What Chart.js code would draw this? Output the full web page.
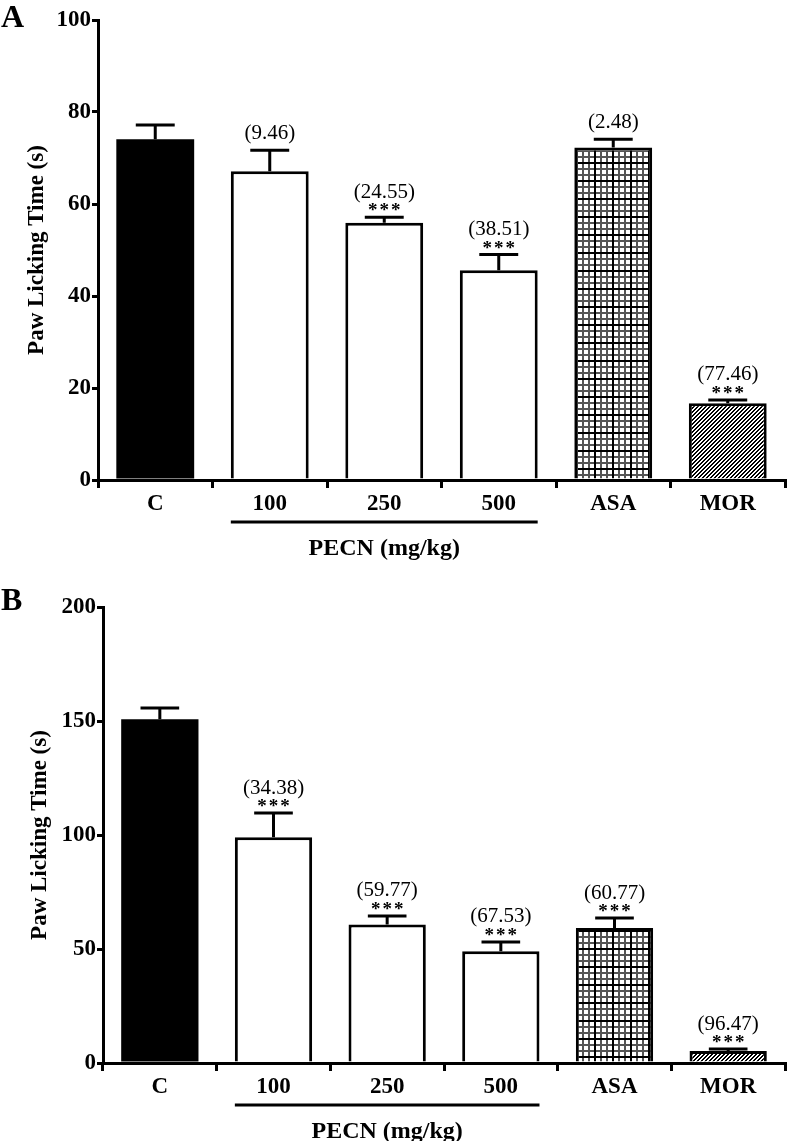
<!DOCTYPE html>
<html>
<head>
<meta charset="utf-8">
<script src="https://cdn.jsdelivr.net/npm/chart.js@4.4.1/dist/chart.umd.min.js"></script>
<style>
  html, body { margin: 0; padding: 0; background: #fff; }
  canvas { display: block; }
</style>
</head>
<body>
<canvas id="chartA" width="787" height="570"></canvas>
<canvas id="chartB" width="787" height="571"></canvas>
<script>
const categories = ['C', '100', '250', '500', 'ASA', 'MOR'];

// panel A
const timeA = [74.1, 67.1, 55.9, 45.6, 72.3, 16.7];
const semA = [3.1, 4.6, 1.2, 3.4, 1.8, 0.7];
const inhibA = ['', '(9.46)', '(24.55)', '(38.51)', '(2.48)', '(77.46)'];
const starsA = ['', '', '***', '***', '', '***'];
const ticksA = [0, 20, 40, 60, 80, 100];

// panel B
const timeB = [150.8, 99.0, 60.7, 49.0, 59.2, 5.3];
const semB = [4.9, 10.6, 3.8, 4.1, 4.4, 0.8];
const inhibB = ['', '(34.38)', '(59.77)', '(67.53)', '(60.77)', '(96.47)'];
const starsB = ['', '***', '***', '***', '***', '***'];
const ticksB = [0, 50, 100, 150, 200];

const SERIF = '"Liberation Serif", "Times New Roman", serif';

function gridPattern() {
    const c = document.createElement('canvas');
    c.width = 18; c.height = 18;
    const g = c.getContext('2d');
    g.fillStyle = '#fff';
    g.fillRect(0, 0, 18, 18);
    g.fillStyle = '#555';
    for (let i = 0; i < 18; i += 6) {
        g.fillRect(i, 0, 2, 18);
        g.fillRect(0, i, 18, 2);
    }
    g.fillStyle = '#000';
    g.fillRect(0, 0, 2, 18);
    g.fillRect(0, 0, 18, 2);
    return g.createPattern(c, 'repeat');
}

function hatchPattern() {
    const c = document.createElement('canvas');
    c.width = 4; c.height = 4;
    const g = c.getContext('2d');
    g.fillStyle = '#fff';
    g.fillRect(0, 0, 4, 4);
    g.fillStyle = '#000';
    for (let i = 0; i < 4; i++) {
        g.fillRect(i, 3 - i, 1, 1);
        g.fillRect(i, (4 - i) % 4, 1, 1);
    }
    return g.createPattern(c, 'repeat');
}

const annotate = {
    id: 'annotate',
    afterDatasetsDraw(chart, args, opts) {
        const { ctx, chartArea, scales: { y } } = chart;
        const bars = chart.getDatasetMeta(0).data;
        const values = chart.data.datasets[0].data;
        ctx.save();
        ctx.fillStyle = '#000';
        ctx.strokeStyle = '#000';
        ctx.lineWidth = 3;
        ctx.textAlign = 'center';
        bars.forEach((bar, i) => {
            const yTop = y.getPixelForValue(values[i] + opts.sem[i]);
            const half = bar.width / 4;
            ctx.beginPath();
            ctx.moveTo(bar.x, bar.y);
            ctx.lineTo(bar.x, yTop);
            ctx.moveTo(bar.x - half, yTop);
            ctx.lineTo(bar.x + half, yTop);
            ctx.stroke();

            if (opts.stars[i]) {
                ctx.font = 'bold 19px ' + SERIF;
                ctx.letterSpacing = '2px';
                ctx.textBaseline = 'alphabetic';
                ctx.fillText(opts.stars[i], bar.x + 1, yTop - 1);
                ctx.letterSpacing = '0px';
            }
            if (opts.inhib[i]) {
                ctx.font = '21px ' + SERIF;
                ctx.textBaseline = 'middle';
                ctx.fillText(opts.inhib[i], bar.x, yTop - (opts.stars[i] ? 25 : 17));
            }
        });

        // PECN group line and label
        const first = bars[1], last = bars[3];
        const lineY = chartArea.bottom + 42;
        ctx.beginPath();
        ctx.moveTo(first.x - first.width / 2, lineY);
        ctx.lineTo(last.x + last.width / 2, lineY);
        ctx.stroke();
        ctx.font = 'bold 24px ' + SERIF;
        ctx.textBaseline = 'middle';
        ctx.fillText('PECN (mg/kg)', bars[2].x, chartArea.bottom + 69);

        // y axis title
        ctx.save();
        ctx.translate(opts.titleX, (chartArea.top + chartArea.bottom) / 2);
        ctx.rotate(-Math.PI / 2);
        ctx.font = 'bold 23px ' + SERIF;
        ctx.fillText('Paw Licking Time (s)', 0, 0);
        ctx.restore();

        // panel letter
        ctx.textAlign = 'left';
        ctx.textBaseline = 'alphabetic';
        ctx.font = 'bold 32px ' + SERIF;
        ctx.fillText(opts.letter, 1, opts.letterY);
        ctx.restore();
    }
};

function buildChart(id, cfg) {
    const tickFont = { family: SERIF, size: 23, weight: 'bold' };
    return new Chart(document.getElementById(id), {
        type: 'bar',
        data: {
            labels: categories,
            datasets: [{
                data: cfg.values,
                backgroundColor: ['#000', '#fff', '#fff', '#fff', gridPattern(), hatchPattern()],
                borderColor: '#000',
                borderWidth: [0, 3, 3, 3, 3, 3],
                barPercentage: 0.68,
                categoryPercentage: 1
            }]
        },
        options: {
            responsive: false,
            animation: false,
            layout: { padding: { top: cfg.top, right: 2, bottom: cfg.bottom, left: 0 } },
            plugins: {
                legend: { display: false },
                tooltip: { enabled: false },
                annotate: {
                    sem: cfg.sem, inhib: cfg.inhib, stars: cfg.stars,
                    letter: cfg.letter, letterY: cfg.letterY, titleX: cfg.titleX
                }
            },
            scales: {
                x: {
                    grid: { display: true, drawOnChartArea: false, color: '#000', lineWidth: 3, tickLength: 8 },
                    border: { color: '#000', width: 3 },
                    ticks: { color: '#000', font: tickFont, padding: 2 },
                    afterFit: s => { s.height = 30; }
                },
                y: {
                    min: 0,
                    max: cfg.ticks[cfg.ticks.length - 1],
                    afterBuildTicks: s => { s.ticks = cfg.ticks.map(v => ({ value: v })); },
                    grid: { display: true, drawOnChartArea: false, color: '#000', lineWidth: 3, tickLength: 6 },
                    border: { color: '#000', width: 3 },
                    ticks: { color: '#000', font: tickFont, padding: 1 },
                    afterFit: s => { s.width = cfg.left; }
                }
            }
        },
        plugins: [annotate]
    });
}

buildChart('chartA', {
    values: timeA, sem: semA, inhib: inhibA, stars: starsA, ticks: ticksA,
    top: 20, bottom: 60, left: 98, letter: 'A', letterY: 27, titleX: 37
});
buildChart('chartB', {
    values: timeB, sem: semB, inhib: inhibB, stars: starsB, ticks: ticksB,
    top: 37, bottom: 48, left: 103, letter: 'B', letterY: 40, titleX: 40
});
</script>
</body>
</html>
